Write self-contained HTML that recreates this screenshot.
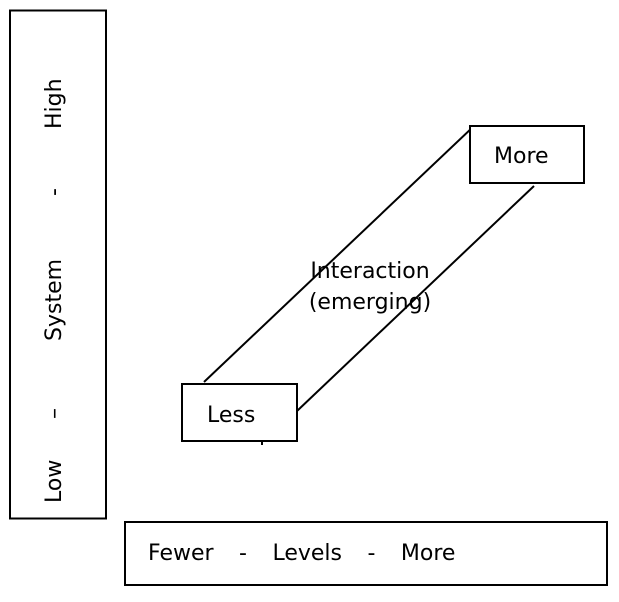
<!DOCTYPE html>
<html><head><meta charset="utf-8"><style>
html,body{margin:0;padding:0;background:#fff;}
svg text{font-family:"DejaVu Sans","Liberation Sans",sans-serif;font-size:22px;fill:#000;}
</style></head><body>
<svg width="619" height="597" viewBox="0 0 619 597" xmlns="http://www.w3.org/2000/svg">
<rect x="10" y="10.5" width="96" height="508" fill="#fff" stroke="#000" stroke-width="2"/>
<g transform="translate(61,0)">
<text transform="translate(0,503) rotate(-90)">Low</text>
<text transform="translate(0,419) rotate(-90)">–</text>
<text transform="translate(0,341) rotate(-90)">System</text>
<text transform="translate(0,196) rotate(-90)">-</text>
<text transform="translate(0,129) rotate(-90)">High</text>
</g>
<rect x="125" y="522" width="482" height="63" fill="#fff" stroke="#000" stroke-width="2"/>
<text x="148" y="560" xml:space="preserve" style="word-spacing:1.5px">Fewer   -   Levels   -   More</text>
<line x1="204" y1="382" x2="474" y2="126" stroke="#000" stroke-width="2"/>
<line x1="297" y1="411" x2="534" y2="186" stroke="#000" stroke-width="2"/>
<line x1="262" y1="441" x2="262" y2="445" stroke="#000" stroke-width="2"/>
<rect x="182" y="384" width="115" height="57" fill="#fff" stroke="#000" stroke-width="2"/>
<text x="207" y="422">Less</text>
<rect x="470" y="126" width="114" height="57" fill="#fff" stroke="#000" stroke-width="2"/>
<text x="494" y="163">More</text>
<text x="370" y="278" text-anchor="middle">Interaction</text>
<text x="370" y="309" text-anchor="middle">(emerging)</text>
</svg>
</body></html>
